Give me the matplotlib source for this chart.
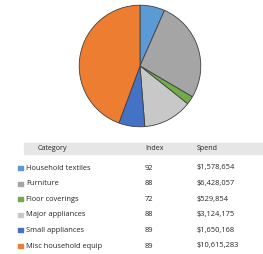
import matplotlib
import matplotlib.pyplot as plt
import numpy as np

matplotlib.use('Agg')
plt.rc('font', family=['Open Sans', 'DejaVu Sans'])

categories = ['Household textiles', 'Furniture', 'Floor coverings', 'Major appliances',
              'Small appliances', 'Misc household equip']
index_vals = [92, 88, 72, 88, 89, 89]
spend = [1578654, 6428057, 529854, 3124175, 1650168, 10615283]
colors = ['#5B9BD5', '#A5A5A5', '#70AD47', '#C8C8C8', '#4472C4', '#ED7D31']


def main():
    fig = plt.figure(figsize=(2.63, 2.54), dpi=100)

    # pie, clockwise from 12 o'clock
    ax = fig.add_axes([(140 - 62) / 263, 1 - (66 + 62) / 254, 124 / 263, 124 / 254])
    ax.pie(spend, colors=colors, startangle=90, counterclock=False,
           wedgeprops=dict(edgecolor='#404040', linewidth=0.6))
    ax.set_xlim(-1.02, 1.02)
    ax.set_ylim(-1.02, 1.02)
    ax.set_aspect('equal')

    # table below
    tab = fig.add_axes([0, 0, 1, 1])
    tab.set_xlim(0, 263)
    tab.set_ylim(254, 0)
    tab.set_axis_off()
    tab.axhspan(143, 154, xmin=24 / 263, xmax=1, color='#E6E6E6', zorder=0)
    fs = 5.4
    tc = '#262626'
    tab.text(38, 148.5, 'Category', fontsize=fs - 0.3, va='center', color=tc)
    tab.text(145, 148.5, 'Index', fontsize=fs - 0.3, va='center', color=tc)
    tab.text(197, 148.5, 'Spend', fontsize=fs - 0.3, va='center', color=tc)
    rows_y = 168 + 15.6 * np.arange(len(categories))
    tab.scatter(np.full(len(categories), 20.5), rows_y, marker='s', s=9, c=colors, zorder=2)
    for y, cat, idx, sp in zip(rows_y, categories, index_vals, spend):
        tab.text(26, y, cat, fontsize=fs, va='center', color=tc)
        tab.text(145, y, str(idx), fontsize=fs, va='center', color=tc)
        tab.text(197, y, '${:,}'.format(sp), fontsize=fs, va='center', color=tc)

    plt.savefig('out.png', dpi=100)


if __name__ == '__main__':
    main()
